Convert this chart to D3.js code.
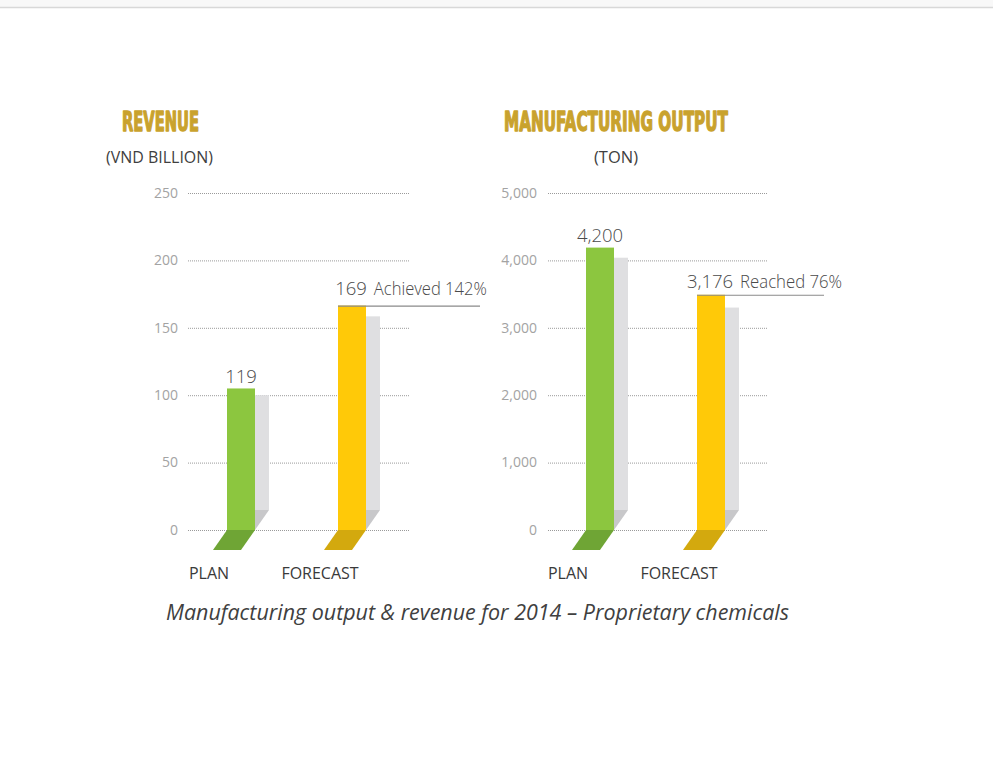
<!DOCTYPE html>
<html>
<head>
<meta charset="utf-8">
<script src="https://cdn.jsdelivr.net/npm/d3@7"></script>
<style>
  html, body { margin: 0; padding: 0; background: #ffffff; }
  svg { display: block; }
</style>
</head>
<body>
<div id="chart"></div>
<script>
// ---------------- DATA ----------------
const categories = ["PLAN", "FORECAST"];

// Revenue (VND billion)
const revenueBarValues = [105, 166.5];        // bar heights as drawn
const revenueShadowValues = [100, 158.5];      // grey back-panel heights as drawn
const revenueLabels = ["119", "169"];
const revenueNotes = [null, "Achieved 142%"];
const revenueTicks = [0, 50, 100, 150, 200, 250];

// Manufacturing output (ton)
const outputBarValues = [4190, 3490];
const outputShadowValues = [4040, 3300];
const outputLabels = ["4,200", "3,176"];
const outputNotes = [null, "Reached 76%"];
const outputTicks = [0, 1000, 2000, 3000, 4000, 5000];

const barColors = ["#8cc63f", "#ffc908"];
const floorColors = ["#6fa535", "#d3a90e"];

// ---------------- LAYOUT ----------------
const W = 993, H = 765;
const svg = d3.select("#chart").append("svg").attr("width", W).attr("height", H);

// top page band
svg.append("rect").attr("x", 0).attr("y", 0).attr("width", W).attr("height", 7).attr("fill", "#f8f8f8");
svg.append("line").attr("x1", 0).attr("x2", W).attr("y1", 7.5).attr("y2", 7.5)
  .attr("stroke", "#d8d8d8").attr("stroke-width", 1.5);

const baseY = 530, topY = 193;
const barW = 28, shW = 14, depth = 20;

const charts = [
  {
    title: "REVENUE", titleX: 122, titleW: 77,
    unit: "(VND BILLION)", unitX: 106, unitW: 107,
    domain: [0, 250], ticks: revenueTicks, tickFmt: d3.format("d"),
    tickX: 178, gridX1: 188, gridX2: 409,
    cx: [241, 352],
    bars: revenueBarValues, shadows: revenueShadowValues,
    labels: revenueLabels, notes: revenueNotes,
    noteW: 113, lineLen: 142, labelGap: 11
  },
  {
    title: "MANUFACTURING OUTPUT", titleX: 504, titleW: 224,
    unit: "(TON)", unitX: 594, unitW: 44,
    domain: [0, 5000], ticks: outputTicks, tickFmt: d3.format(","),
    tickX: 537, gridX1: 548, gridX2: 768,
    cx: [600, 711],
    bars: outputBarValues, shadows: outputShadowValues,
    labels: outputLabels, notes: outputNotes,
    noteW: 102, lineLen: 127, labelGap: 7
  }
];

charts.forEach(c => {
  const g = svg.append("g");
  const y = d3.scaleLinear().domain(c.domain).range([baseY, topY]);
  const x = d3.scalePoint().domain(categories).range(c.cx);

  // Title
  g.append("text")
    .attr("x", c.titleX).attr("y", 130.5)
    .attr("font-family", "'Liberation Sans Narrow', 'DejaVu Sans Condensed', 'Liberation Sans', sans-serif")
    .attr("font-weight", "bold").attr("font-size", 26)
    .attr("fill", "#c9a22d").attr("stroke", "#c9a22d").attr("stroke-width", 1.3)
    .attr("stroke-linejoin", "round")
    .attr("textLength", c.titleW).attr("lengthAdjust", "spacingAndGlyphs")
    .text(c.title);

  // Unit
  g.append("text")
    .attr("x", c.unitX).attr("y", 162.5)
    .attr("font-family", "'Open Sans', sans-serif").attr("font-size", 15.5)
    .attr("fill", "#404040")
    .attr("textLength", c.unitW).attr("lengthAdjust", "spacingAndGlyphs")
    .text(c.unit);

  // Axis (ticks + dotted gridlines)
  const axis = d3.axisLeft(y).tickValues(c.ticks).tickFormat(c.tickFmt)
    .tickSize(-(c.gridX2 - c.gridX1)).tickPadding(10);
  const ag = g.append("g").attr("transform", `translate(${c.gridX1},0)`).call(axis);
  ag.select(".domain").remove();
  ag.selectAll(".tick line")
    .attr("stroke", "#9a9a9a").attr("stroke-width", 1).attr("stroke-dasharray", "1,1");
  ag.selectAll(".tick text")
    .attr("x", c.tickX - c.gridX1)
    .attr("dy", "0.3em")
    .attr("font-family", "'Open Sans', sans-serif").attr("font-size", 14)
    .attr("fill", "#a3a3a3");

  const data = categories.map((k, i) => ({
    k, i, v: c.bars[i], s: c.shadows[i], label: c.labels[i], note: c.notes[i]
  }));

  const bg = g.append("g");
  data.forEach(d => {
    const left = x(d.k) - barW / 2, right = x(d.k) + barW / 2;
    // grey back panel
    bg.append("rect")
      .attr("x", right).attr("y", y(d.s))
      .attr("width", shW).attr("height", (baseY - depth) - y(d.s))
      .attr("fill", "#dfdfe1");
    bg.append("path")
      .attr("d", `M${right},${baseY - depth}L${right + shW},${baseY - depth}L${right},${baseY}Z`)
      .attr("fill", "#c8c8ca");
    // floor parallelogram
    bg.append("path")
      .attr("d", `M${left},${baseY}L${right},${baseY}L${right - shW},${baseY + depth}L${left - shW},${baseY + depth}Z`)
      .attr("fill", floorColors[d.i]);
    // bar
    bg.append("rect")
      .attr("x", left).attr("y", y(d.v))
      .attr("width", barW).attr("height", baseY - y(d.v))
      .attr("fill", barColors[d.i]);

    // category label
    g.append("text")
      .attr("x", x(d.k) - 32).attr("y", 579)
      .attr("text-anchor", "middle")
      .attr("font-family", "'Open Sans', sans-serif").attr("font-size", 16)
      .attr("fill", "#3a3a3a")
      .text(d.k);

    // value label
    if (d.note) {
      const ly = y(d.v);
      g.append("line")
        .attr("x1", left).attr("x2", left + c.lineLen)
        .attr("y1", ly + 0.5).attr("y2", ly + 0.5)
        .attr("stroke", "#8a8a8a").attr("stroke-width", 1.2);
      const vt = g.append("text")
        .attr("x", x(d.k) - 1).attr("y", ly - c.labelGap)
        .attr("text-anchor", "middle")
        .attr("font-family", "'Open Sans', sans-serif").attr("font-size", 18.5).attr("font-weight", 300)
        .attr("fill", "#4a4a4a")
        .text(d.label);
      const bb = vt.node().getBBox();
      g.append("text")
        .attr("x", bb.x + bb.width + 7).attr("y", ly - c.labelGap)
        .attr("font-family", "'Open Sans', sans-serif").attr("font-size", 17.5).attr("font-weight", 300)
        .attr("fill", "#4a4a4a")
        .attr("textLength", c.noteW).attr("lengthAdjust", "spacingAndGlyphs")
        .text(d.note);
    } else {
      g.append("text")
        .attr("x", x(d.k)).attr("y", y(d.v) - 5.5)
        .attr("text-anchor", "middle")
        .attr("font-family", "'Open Sans', sans-serif").attr("font-size", 18.5).attr("font-weight", 300)
        .attr("fill", "#4a4a4a")
        .text(d.label);
    }
  });
});

// caption
svg.append("text")
  .attr("x", 166).attr("y", 620)
  .attr("font-family", "'Open Sans', sans-serif").attr("font-style", "italic").attr("font-size", 21)
  .attr("fill", "#404040")
  .attr("textLength", 623).attr("lengthAdjust", "spacingAndGlyphs")
  .text("Manufacturing output & revenue for 2014 – Proprietary chemicals");
</script>
</body>
</html>
